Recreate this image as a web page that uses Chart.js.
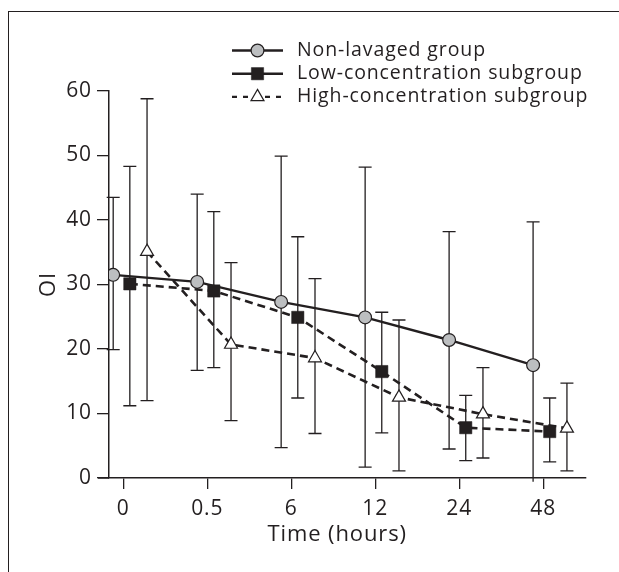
<!DOCTYPE html>
<html>
<head>
<meta charset="utf-8">
<script src="https://cdn.jsdelivr.net/npm/chart.js@4.4.1/dist/chart.umd.min.js"></script>
<style>
  html, body { margin: 0; padding: 0; background: #fff; }
  #wrap { position: relative; width: 619px; height: 572px; overflow: hidden; }
  #frame { position: absolute; left: 8px; top: 11px; right: -4px; bottom: -4px;
           border-left: 1.5px solid #231f20; border-top: 1.5px solid #231f20; }
</style>
</head>
<body>
<div id="wrap">
  <canvas id="chart" width="619" height="572"></canvas>
  <div id="frame"></div>
</div>
<script>
// time points (x categories)
const categories = ['0', '0.5', '6', '12', '24', '48'];

// mean OI per group, with upper / lower ends of the error bars
const nonLavaged   = [31.5, 30.4, 27.3, 24.9, 21.4, 17.5];
const nonLavagedHi = [43.5, 44.0, 49.9, 48.2, 38.2, 39.7];
const nonLavagedLo = [19.9, 16.7, 4.7, 1.7, 4.5, -0.6];

const lowConc   = [30.1, 29.0, 24.9, 16.5, 7.8, 7.2];
const lowConcHi = [48.3, 41.3, 37.4, 25.7, 12.8, 12.4];
const lowConcLo = [11.2, 17.1, 12.4, 7.0, 2.7, 2.5];

const highConc   = [35.1, 20.7, 18.6, 12.5, 9.9, 7.7];
const highConcHi = [58.8, 33.4, 30.9, 24.5, 17.1, 14.7];
const highConcLo = [12.0, 8.9, 6.9, 1.1, 3.1, 1.1];

const yTicks = [0, 10, 20, 30, 40, 50, 60];

const ink = '#231f20';
const family = '"Open Sans", "Noto Sans", sans-serif';
const weight = 500;
const spacing = '0.9px';

// each group sits a little left/right of the tick
const toPoints = (vals, shift) => vals.map((v, i) => ({ x: i + shift, y: v }));
const errors = [
  [nonLavagedLo, nonLavagedHi],
  [lowConcLo, lowConcHi],
  [highConcLo, highConcHi]
];

const letterSpacing = {
  id: 'letterSpacing',
  beforeUpdate(chart) { chart.ctx.letterSpacing = spacing; },
  beforeDraw(chart) { chart.ctx.letterSpacing = spacing; }
};

const errorBars = {
  id: 'errorBars',
  beforeDatasetsDraw(chart) {
    const { ctx } = chart;
    const xs = chart.scales.x, ys = chart.scales.y;
    ctx.save();
    ctx.strokeStyle = ink;
    ctx.lineWidth = 1.3;
    chart.data.datasets.forEach((ds, d) => {
      const [lo, hi] = errors[d];
      ds.data.forEach((p, i) => {
        const px = xs.getPixelForValue(p.x);
        const top = ys.getPixelForValue(hi[i]);
        const bot = ys.getPixelForValue(lo[i]);
        ctx.beginPath();
        ctx.moveTo(px, top); ctx.lineTo(px, bot);
        ctx.moveTo(px - 6.5, top); ctx.lineTo(px + 6.5, top);
        if (lo[i] >= 0) { ctx.moveTo(px - 6.5, bot); ctx.lineTo(px + 6.5, bot); }
        ctx.stroke();
      });
    });
    ctx.restore();
  },
  afterDraw(chart) {
    const { ctx, chartArea } = chart;
    const xs = chart.scales.x;
    ctx.save();
    // little stub of the x axis left of the y axis
    ctx.strokeStyle = ink;
    ctx.lineWidth = 1.5;
    ctx.beginPath();
    ctx.moveTo(chartArea.left - 11, chartArea.bottom);
    ctx.lineTo(chartArea.left, chartArea.bottom);
    ctx.stroke();
    // x axis title, centred under the tick labels
    ctx.font = weight + ' 22px ' + family;
    ctx.fillStyle = ink;
    ctx.textAlign = 'center';
    ctx.textBaseline = 'middle';
    ctx.fillText('Time (hours)', xs.getPixelForValue(2.5) + 4, chartArea.bottom + 57);
    ctx.restore();
  }
};

// legend: line + marker, low-concentration shown with a solid line as in the original
const legendDash = [[], [], [5, 6]];
const keyLegend = {
  id: 'keyLegend',
  afterDraw(chart) {
    const { ctx } = chart;
    ctx.save();
    ctx.font = weight + ' 19.5px ' + family;
    ctx.textBaseline = 'middle';
    ctx.fillStyle = ink;
    chart.data.datasets.forEach((ds, d) => {
      const y = 50.5 + d * 23.2;
      ctx.strokeStyle = ink;
      ctx.lineWidth = 2.4;
      ctx.setLineDash(legendDash[d]);
      ctx.beginPath();
      ctx.moveTo(232, y); ctx.lineTo(283, y);
      ctx.stroke();
      ctx.setLineDash([]);
      ctx.fillStyle = ds.pointBackgroundColor;
      ctx.lineWidth = ds.pointBorderWidth;
      Chart.helpers.drawPoint(ctx, {
        pointStyle: ds.pointStyle, radius: ds.pointRadius, rotation: 0, borderWidth: ds.pointBorderWidth
      }, 257.5, y);
      ctx.fillStyle = ink;
      ctx.fillText(ds.label, 297, y);
    });
    ctx.restore();
  }
};

new Chart(document.getElementById('chart'), {
  type: 'line',
  data: {
    datasets: [{
      label: 'Non-lavaged group',
      data: toPoints(nonLavaged, -0.12),
      borderColor: ink,
      borderWidth: 2.4,
      pointStyle: 'circle',
      pointRadius: 6.4,
      pointBackgroundColor: '#bcbec0',
      pointBorderColor: ink,
      pointBorderWidth: 1.2
    }, {
      label: 'Low-concentration subgroup',
      data: toPoints(lowConc, 0.078),
      borderColor: ink,
      borderWidth: 2.6,
      borderDash: [8, 5],
      pointStyle: 'rect',
      pointRadius: 8.7,
      pointBackgroundColor: ink,
      pointBorderColor: ink,
      pointBorderWidth: 0.5
    }, {
      label: 'High-concentration subgroup',
      data: toPoints(highConc, 0.283),
      borderColor: ink,
      borderWidth: 2.6,
      borderDash: [8, 5],
      pointStyle: 'triangle',
      pointRadius: 7.5,
      pointBackgroundColor: '#ffffff',
      pointBorderColor: ink,
      pointBorderWidth: 1.2
    }]
  },
  options: {
    responsive: false,
    animation: false,
    devicePixelRatio: 1,
    layout: { padding: { left: 9, top: 91, right: 33, bottom: 0 } },
    elements: { line: { tension: 0 } },
    plugins: { legend: { display: false }, tooltip: { enabled: false } },
    scales: {
      x: {
        type: 'linear',
        min: -0.17,
        max: 5.51,
        afterBuildTicks: (s) => { s.ticks = categories.map((c, i) => ({ value: i })); },
        afterFit: (s) => { s.height = 94; },
        ticks: {
          callback: (v) => categories[v],
          color: ink, font: { family, size: 21, weight }, padding: 7,
          maxRotation: 0, autoSkip: false
        },
        grid: { drawOnChartArea: false, tickLength: 11, color: ink, lineWidth: 1.3 },
        border: { color: ink, width: 1.5 }
      },
      y: {
        min: 0,
        max: 60,
        afterBuildTicks: (s) => { s.ticks = yTicks.map((v) => ({ value: v })); },
        afterFit: (s) => { s.width = 100; },
        ticks: { color: ink, font: { family, size: 21, weight }, padding: 5 },
        grid: { drawOnChartArea: false, tickLength: 12, color: ink, lineWidth: 1.3 },
        border: { color: ink, width: 1.5 },
        title: {
          display: true, text: 'OI', color: ink,
          font: { family, size: 22, weight }, padding: { top: 27, bottom: 0 }
        }
      }
    }
  },
  plugins: [letterSpacing, errorBars, keyLegend]
});
</script>
</body>
</html>
